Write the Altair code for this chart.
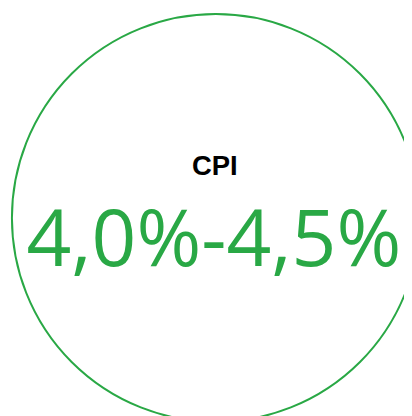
import altair as alt
import pandas as pd

indicator = ["CPI"]
target_range = ["4,0%-4,5%"]
share = [1]

df = pd.DataFrame({"indicator": indicator, "range": target_range, "share": share})

GREEN = "#29a845"

base = alt.Chart(df)

ring = base.mark_arc(radius=208, stroke=GREEN, strokeWidth=2, fillOpacity=0).encode(
    theta=alt.Theta("share:Q"),
    x=alt.value(212),
    y=alt.value(210),
)

title = base.mark_text(font="Liberation Sans", fontSize=28, fontWeight="bold", color="#000000",
                       baseline="alphabetic", align="center").encode(
    text="indicator:N", x=alt.value(211), y=alt.value(166)
)

value = base.mark_text(font="Open Sans", fontSize=80, fontWeight="normal", color=GREEN,
                       baseline="alphabetic", align="center").encode(
    text="range:N", x=alt.value(210), y=alt.value(259)
)

chart = alt.layer(ring, title, value).properties(
    width=404, height=408, padding=0, autosize=alt.AutoSizeParams(type="none")
).configure_view(stroke=None)

chart.save("out.html", embed_options={"renderer": "svg", "actions": False})
